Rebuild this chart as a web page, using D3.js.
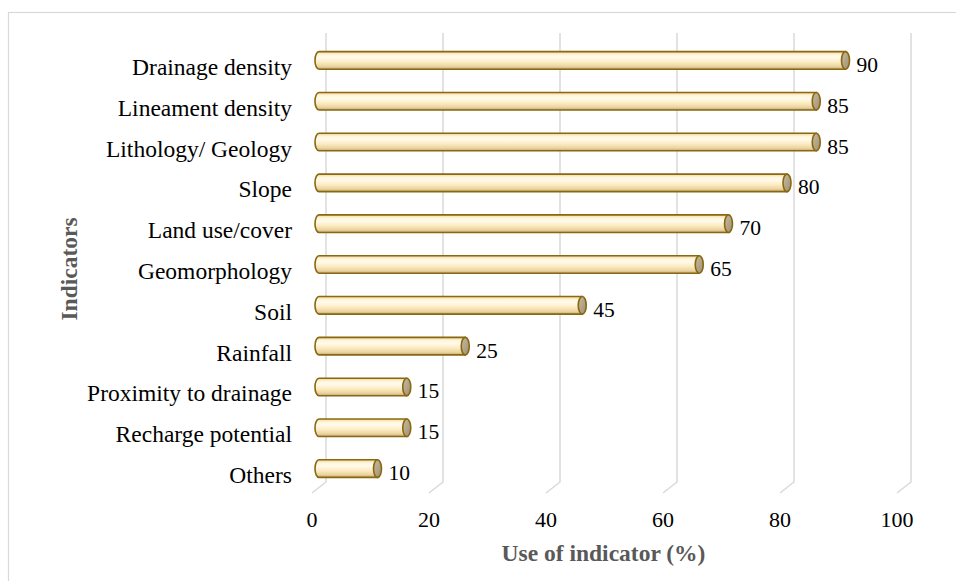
<!DOCTYPE html>
<html>
<head>
<meta charset="utf-8">
<script src="https://cdn.jsdelivr.net/npm/d3@7/dist/d3.min.js"></script>
<style>
  html, body { margin: 0; padding: 0; background: #fff; }
  svg { display: block; }
</style>
</head>
<body>
<script>
// Share of studies using each indicator (%)
const categories = [
  "Drainage density", "Lineament density", "Lithology/ Geology", "Slope",
  "Land use/cover", "Geomorphology", "Soil", "Rainfall",
  "Proximity to drainage", "Recharge potential", "Others"
];
const values = [90, 85, 85, 80, 70, 65, 45, 25, 15, 15, 10];
const tickValues = [0, 20, 40, 60, 80, 100];
const xTitle = "Use of indicator (%)";
const yTitle = "Indicators";

const W = 956, H = 581;
const svg = d3.select("body").append("svg").attr("width", W).attr("height", H);

// 3D depth offsets: back wall -> bar plane -> front floor edge
const depth = { dx: -14, dy: 11 };
const mid = { dx: depth.dx / 2, dy: depth.dy / 2 };

const xBack = d3.scaleLinear().domain([0, 100]).range([326, 911]);
const y = d3.scaleBand().domain(categories).range([40, 489]).paddingInner(0.57).paddingOuter(0.285);

const serif = "'Liberation Serif', 'Times New Roman', serif";

// chart frame
svg.append("rect").attr("x", 8.5).attr("y", 12.5).attr("width", W).attr("height", H)
  .attr("fill", "none").attr("stroke", "#d9d9d9").attr("stroke-width", 1.2);

// gradients for the cylinders
const defs = svg.append("defs");
const body = defs.append("linearGradient").attr("id", "cyl").attr("x1", 0).attr("y1", 0).attr("x2", 0).attr("y2", 1);
[[0, "#f0d49a"], [0.18, "#fff6dd"], [0.35, "#fffaea"], [0.6, "#fdecc2"], [0.85, "#ead3a0"], [1, "#bfa878"]]
  .forEach(([o, c]) => body.append("stop").attr("offset", o).attr("stop-color", c));
const cap = defs.append("linearGradient").attr("id", "cap").attr("x1", 0).attr("y1", 0).attr("x2", 1).attr("y2", 1);
[[0, "#c8bb9c"], [1, "#9d9078"]]
  .forEach(([o, c]) => cap.append("stop").attr("offset", o).attr("stop-color", c));

// gridlines: back wall vertical + floor diagonal
const yTop = 33, yFloor = 482;
const grid = svg.append("g").attr("stroke", "#d9d9d9").attr("stroke-width", 1.5).attr("fill", "none");
grid.selectAll("path").data(tickValues).join("path")
  .attr("d", t => `M${xBack(t)},${yTop} L${xBack(t)},${yFloor} L${xBack(t) + depth.dx},${yFloor + depth.dy}`);

// tick labels on the front edge
svg.append("g").selectAll("text").data(tickValues).join("text")
  .attr("x", t => xBack(t) + depth.dx)
  .attr("y", 527)
  .attr("text-anchor", "middle")
  .attr("font-family", serif).attr("font-size", 22).attr("fill", "#000")
  .text(t => t);

// cylinders
const rx = 4;
const bars = svg.append("g");
const g = bars.selectAll("g").data(categories.map((c, i) => ({ c, v: values[i] }))).join("g");
g.append("path")
  .attr("d", d => {
    const x0 = xBack(0) + mid.dx, x1 = xBack(d.v) + mid.dx;
    const t = y(d.c) + mid.dy - 5.5, b = t + y.bandwidth(), ry = y.bandwidth() / 2;
    return `M${x0},${t} L${x1},${t} L${x1},${b} L${x0},${b} A${rx},${ry} 0 0 1 ${x0},${t} Z`;
  })
  .attr("fill", "url(#cyl)").attr("stroke", "#8a6810").attr("stroke-width", 1.6);
g.append("ellipse")
  .attr("cx", d => xBack(d.v) + mid.dx)
  .attr("cy", d => y(d.c) + mid.dy - 5.5 + y.bandwidth() / 2)
  .attr("rx", rx).attr("ry", y.bandwidth() / 2)
  .attr("fill", "url(#cap)").attr("stroke", "#8a6810").attr("stroke-width", 1.6);

// value labels
g.append("text")
  .attr("x", d => xBack(d.v) + mid.dx + rx + 7)
  .attr("y", d => y(d.c) + y.bandwidth() / 2 + 11.5)
  .attr("font-family", serif).attr("font-size", 21.5).attr("fill", "#000")
  .text(d => d.v);

// category labels
svg.append("g").selectAll("text").data(categories).join("text")
  .attr("x", 292)
  .attr("y", c => y(c) + y.bandwidth() / 2 + 14.5)
  .attr("text-anchor", "end")
  .attr("font-family", serif).attr("font-size", 23.5).attr("fill", "#000")
  .text(c => c);

// axis titles
svg.append("text")
  .attr("x", 603.5).attr("y", 561)
  .attr("text-anchor", "middle")
  .attr("font-family", serif).attr("font-size", 23.5).attr("font-weight", "bold").attr("fill", "#595959")
  .text(xTitle);
svg.append("text")
  .attr("transform", "translate(77,269) rotate(-90)")
  .attr("text-anchor", "middle")
  .attr("font-family", serif).attr("font-size", 23.5).attr("font-weight", "bold").attr("fill", "#595959")
  .text(yTitle);
</script>
</body>
</html>
